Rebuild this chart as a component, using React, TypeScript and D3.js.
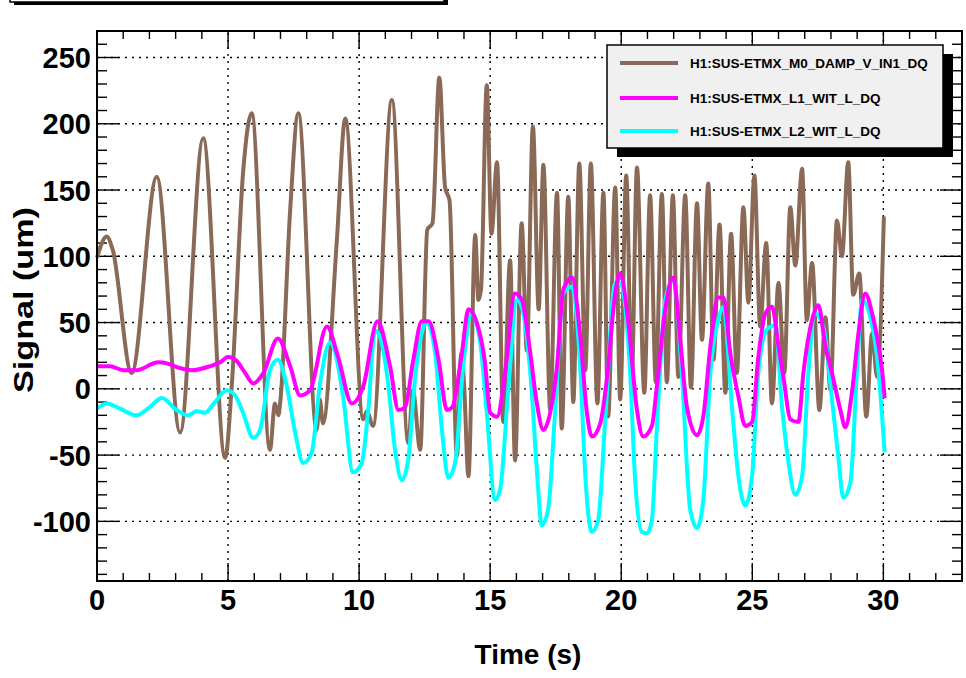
import React from "react";
import * as d3 from "d3";

const xTicks = [0, 5, 10, 15, 20, 25, 30];
const yTicks = [-100, -50, 0, 50, 100, 150, 200, 250];
const seriesNames = [
  "H1:SUS-ETMX_M0_DAMP_V_IN1_DQ",
  "H1:SUS-ETMX_L1_WIT_L_DQ",
  "H1:SUS-ETMX_L2_WIT_L_DQ",
];
const seriesColors = ["#8a6957", "#ff00ff", "#00ffff"];

const brownSeries: [number, number][] = [
  [0, 99], [0.37, 115], [0.6, 105], [1.32, 12], [2.28, 160], [3.17, -33], [4.05, 189], [4.89, -52],
  [5.14, 2], [5.58, 165], [5.9, 208], [6.6, -46], [6.79, -11], [6.92, -20], [7.0, -8], [7.37, 135],
  [7.68, 208], [8.38, -31], [8.5, -8], [8.62, -26], [9.15, 112], [9.47, 204], [10.16, -23], [10.3, -17],
  [10.53, -28], [11.25, 218], [11.88, -41], [12.05, -1], [12.33, -46], [12.6, 120], [12.8, 125],
  [13.06, 235], [13.28, 152], [13.45, 142], [13.73, -51], [13.9, 27], [14.0, 5], [14.17, -66],
  [14.43, 116], [14.55, 67], [14.65, 75], [14.87, 229], [15.05, 117], [15.26, 171], [15.5, -25],
  [15.76, 97], [15.95, -54], [16.2, 125], [16.4, 29], [16.63, 198], [16.85, 60], [17.03, 169],
  [17.29, -16], [17.55, 148], [17.73, -30], [17.98, 145], [18.17, -10], [18.4, 170], [18.63, 14],
  [18.84, 170], [19.09, -11], [19.32, 148], [19.5, -21], [19.77, 152], [19.96, -8], [20.19, 161],
  [20.4, 7], [20.6, 167], [20.88, -3], [21.1, 146], [21.32, 5], [21.55, 147], [21.74, 5], [21.97, 146],
  [22.18, 9], [22.44, 146], [22.66, 1], [22.89, 140], [23.08, 37], [23.32, 155], [23.52, 22],
  [23.75, 124], [23.97, -3], [24.19, 117], [24.41, 12], [24.66, 137], [24.85, 65], [25.08, 161],
  [25.3, 47], [25.53, 110], [25.75, -11], [26.0, 80], [26.22, 12], [26.45, 137], [26.64, 93],
  [26.9, 166], [27.08, 52], [27.28, 95], [27.56, -16], [27.79, 54], [27.98, -1], [28.23, 127],
  [28.42, 100], [28.66, 171], [28.85, 71], [29.08, 87], [29.35, -21], [29.57, 42], [29.76, 9],
  [30.02, 130],
];

const magentaSeries: [number, number][] = [
  [0, 17], [0.5, 17], [1.0, 14], [1.5, 14], [2.34, 20], [2.7, 19], [3.1, 16], [3.6, 14], [4.3, 17],
  [4.7, 20], [5.0, 24], [5.33, 21], [5.65, 12], [5.96, 4], [6.35, 12], [6.9, 38], [7.37, 17],
  [7.75, -5], [8.13, -1], [8.77, 47], [9.2, 24], [9.72, -11], [10.16, 2], [10.7, 51], [11.18, 17],
  [11.5, -16], [11.75, -14], [12.07, 22], [12.39, 51], [12.65, 51], [13.03, 22], [13.35, -16],
  [13.55, -14], [13.92, 27], [14.17, 60], [14.49, 50], [14.8, 20], [15.0, -18], [15.26, -21],
  [15.57, 12], [15.95, 72], [16.21, 67], [16.53, 27], [16.78, -11], [17.03, -31], [17.29, -18],
  [17.55, 17], [17.79, 75], [18.12, 84], [18.44, 39], [18.69, -18], [18.88, -36], [19.2, -26],
  [19.46, 9], [19.77, 72], [19.96, 87], [20.27, 50], [20.6, -16], [20.84, -36], [21.17, -28],
  [21.36, 2], [21.68, 60], [21.98, 84], [22.25, 37], [22.5, -13], [22.89, -35], [23.13, -21],
  [23.4, 32], [23.7, 69], [23.9, 69], [24.16, 27], [24.47, -6], [24.73, -28], [24.99, -25],
  [25.23, 24], [25.5, 57], [25.75, 62], [26.0, 32], [26.2, 7], [26.45, -23], [26.76, -25],
  [26.95, 12], [27.28, 52], [27.52, 63], [27.79, 32], [28.04, 12], [28.36, -16], [28.55, -29],
  [28.8, -3], [29.05, 42], [29.31, 72], [29.57, 57], [29.76, 39], [29.95, 14], [30.05, -7],
];

const cyanSeries: [number, number][] = [
  [0, -15], [0.37, -11], [0.88, -15], [1.5, -20], [2.0, -14], [2.47, -7], [3.04, -16], [3.47, -20],
  [3.8, -17], [4.12, -18], [4.5, -10], [4.95, -1], [5.27, -5], [5.57, -18], [5.96, -37], [6.22, -31],
  [6.6, 14], [6.9, 22], [7.24, 2], [7.56, -33], [7.87, -56], [8.19, -48], [8.51, 4], [8.89, 35],
  [9.05, 30], [9.39, -6], [9.77, -63], [10.1, -56], [10.34, -18], [10.61, 44], [10.8, 39], [11.1, 5],
  [11.37, -46], [11.63, -69], [11.87, -54], [12.14, 9], [12.58, 50], [12.9, 27], [13.16, -31],
  [13.4, -67], [13.66, -56], [13.97, 17], [14.3, 57], [14.62, 35], [14.87, -18], [15.19, -84],
  [15.38, -76], [15.7, 2], [16.02, 67], [16.2, 62], [16.59, -3], [16.78, -61], [16.97, -103],
  [17.21, -91], [17.48, -16], [17.79, 72], [18.12, 77], [18.44, 14], [18.63, -66], [18.88, -108],
  [19.12, -99], [19.39, -23], [19.77, 80], [19.96, 80], [20.34, 12], [20.53, -69], [20.79, -108],
  [20.98, -109], [21.17, -99], [21.36, -29], [21.68, 67], [21.98, 82], [22.31, 12], [22.63, -91],
  [22.89, -105], [23.13, -84], [23.4, 12], [23.7, 52], [23.9, 62], [24.22, -13], [24.47, -66],
  [24.73, -88], [24.99, -66], [25.23, 12], [25.56, 45], [25.88, 48], [26.13, -13], [26.37, -54],
  [26.64, -80], [26.9, -66], [27.14, 12], [27.4, 57], [27.71, 47], [28.04, -8], [28.28, -51],
  [28.47, -82], [28.74, -71], [28.99, 12], [29.19, 67], [29.5, 54], [29.76, 24], [30.05, -48],
];

const W = 966;
const H = 678;
const L = 97, R = 962, T = 31, B = 581;
const FONT = "'Liberation Sans', Arial, Helvetica, sans-serif";

export default function App() {
  const x = d3.scaleLinear().domain([0, 33]).range([L, R]);
  const y = d3.scaleLinear().domain([-145, 270]).range([B, T]);

  const line = d3
    .line<[number, number]>()
    .x((d) => x(d[0]))
    .y((d) => y(d[1]))
    .curve(d3.curveMonotoneX);

  const xMinor = d3.range(0, 34, 1).filter((v) => v % 5 !== 0 && v <= 33);
  const yMinor = d3.range(-140, 271, 10).filter((v) => v % 50 !== 0);

  const xMajorLen = 18, xMinorLen = 8;
  const yMajorLen = 22, yMinorLen = 10;

  const legendX = 607, legendY = 45, legendW = 336, legendH = 103;
  const legendRows = [63, 98, 131];

  return (
    <svg
      width={W}
      height={H}
      style={{ position: "absolute", left: 0, top: 0, background: "#fff" }}
    >
      <rect x={0} y={0} width={W} height={H} fill="#fff" />
      {/* top-left title box (cut off) */}
      <rect x={14} y={-30} width={434} height={35} fill="#000" />
      <rect x={10} y={-34} width={434} height={36} fill="#fff" stroke="#000" strokeWidth={1.5} />

      {/* grid */}
      <g stroke="#000" strokeWidth={1.4} strokeDasharray="2 5">
        {xTicks.slice(1).map((t) => (
          <line key={"gx" + t} x1={x(t)} x2={x(t)} y1={B} y2={T} />
        ))}
        {yTicks.map((t) => (
          <line key={"gy" + t} x1={L} x2={R} y1={y(t)} y2={y(t)} />
        ))}
      </g>

      {/* ticks */}
      <g stroke="#000" strokeWidth={1.4}>
        {xTicks.map((t) => (
          <g key={"tx" + t}>
            <line x1={x(t)} x2={x(t)} y1={B} y2={B - xMajorLen} />
            <line x1={x(t)} x2={x(t)} y1={T} y2={T + xMajorLen} />
          </g>
        ))}
        {xMinor.map((t) => (
          <g key={"mx" + t}>
            <line x1={x(t)} x2={x(t)} y1={B} y2={B - xMinorLen} />
            <line x1={x(t)} x2={x(t)} y1={T} y2={T + xMinorLen} />
          </g>
        ))}
        {yTicks.map((t) => (
          <g key={"ty" + t}>
            <line x1={L} x2={L + yMajorLen} y1={y(t)} y2={y(t)} />
            <line x1={R} x2={R - yMajorLen} y1={y(t)} y2={y(t)} />
          </g>
        ))}
        {yMinor.map((t) => (
          <g key={"my" + t}>
            <line x1={L} x2={L + yMinorLen} y1={y(t)} y2={y(t)} />
            <line x1={R} x2={R - yMinorLen} y1={y(t)} y2={y(t)} />
          </g>
        ))}
      </g>

      {/* data */}
      <g fill="none" strokeWidth={4} strokeLinejoin="round">
        <path d={line(brownSeries) || ""} stroke={seriesColors[0]} />
        <path d={line(cyanSeries) || ""} stroke={seriesColors[2]} />
        <path d={line(magentaSeries) || ""} stroke={seriesColors[1]} />
      </g>

      {/* frame */}
      <rect x={L} y={T} width={R - L} height={B - T} fill="none" stroke="#000" strokeWidth={2} />

      {/* tick labels */}
      <g fontFamily={FONT} fontWeight="bold" fontSize={29} fill="#000">
        {xTicks.map((t) => (
          <text key={"lx" + t} x={x(t)} y={609.5} textAnchor="middle">
            {t}
          </text>
        ))}
        {yTicks.map((t) => (
          <text key={"ly" + t} x={91} y={y(t) + 10.6} textAnchor="end">
            {t}
          </text>
        ))}
      </g>

      {/* axis titles */}
      <text
        x={528}
        y={664}
        textAnchor="middle"
        fontFamily={FONT}
        fontWeight="bold"
        fontSize={28}
      >
        Time (s)
      </text>
      <text
        transform={`translate(33, ${300}) rotate(-90)`}
        textAnchor="middle"
        fontFamily={FONT}
        fontWeight="bold"
        fontSize={27}
        textLength={186}
        lengthAdjust="spacingAndGlyphs"
      >
        Signal (um)
      </text>

      {/* legend */}
      <rect x={legendX + 10} y={legendY + 9} width={legendW} height={legendH} fill="#000" />
      <rect
        x={legendX}
        y={legendY}
        width={legendW}
        height={legendH}
        fill="#f0f0f0"
        stroke="#000"
        strokeWidth={1.5}
      />
      {seriesNames.map((name, i) => (
        <g key={name}>
          <line
            x1={620}
            x2={678}
            y1={legendRows[i]}
            y2={legendRows[i]}
            stroke={seriesColors[i]}
            strokeWidth={4}
          />
          <text
            x={690}
            y={legendRows[i] + 5}
            fontFamily={FONT}
            fontWeight="bold"
            fontSize={13.5}
            fill="#000"
          >
            {name}
          </text>
        </g>
      ))}
    </svg>
  );
}
